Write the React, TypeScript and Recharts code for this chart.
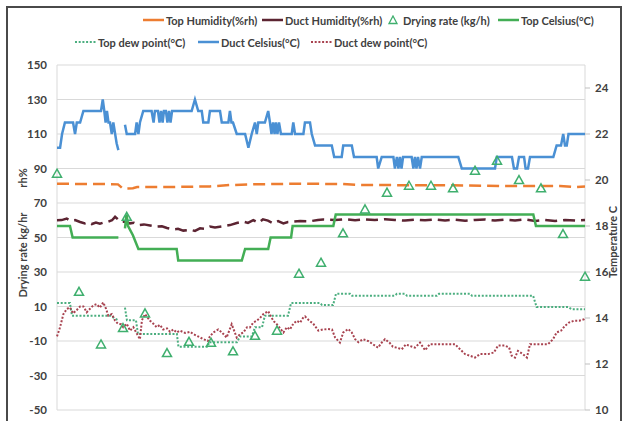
import React from 'react'
import { ComposedChart, Line, Scatter, XAxis, YAxis, CartesianGrid, Label } from 'recharts'

// x = sample index along the run (0..240), no labels shown on the x axis
const xTicks = [0, 20, 40, 60, 80, 100, 120, 140, 160, 180, 200, 220, 240]
const rhTicks = [-50, -30, -10, 10, 30, 50, 70, 90, 110, 130, 150]
const tempTicks = [10, 12, 14, 16, 18, 20, 22, 24]

type Pt = [number, number | null]

const topHumidity: Pt[] = [
  [0, 81.2], [10.5, 81], [19.5, 81], [27.7, 80.8], [30, 78.3], [34.5, 78.6], [36.4, 79.3], [53.6, 79.3],
  [69.5, 79.6], [78.6, 80.4], [87.7, 80.8], [110.5, 81.2], [130, 81], [137.7, 80.4], [178.6, 80.3],
  [201.4, 79.8], [228.6, 79.8], [235.5, 79.2], [240, 79.5],
]

const ductHumidity: Pt[] = [
  [0, 60], [2.1, 60.1], [4.4, 61], [5.9, 59.8], [8.2, 60.1], [10.5, 59], [12.7, 58.2], [14.1, 58.8],
  [15.8, 57.8], [17.7, 58.6], [19.5, 58], [21.4, 58.7], [23.3, 59.2], [25, 60], [26.4, 62], [27.7, 60.5],
  [29.1, 59], [30.9, 59.2], [33.2, 58.2], [35, 58.5], [37, 57.2], [39.5, 57.6], [42.3, 57], [45.3, 56.3],
  [47.7, 56.5], [50, 55.5], [52.9, 54.7], [55, 55], [57.4, 54], [60.5, 54.5], [62.7, 53.8], [65, 55.3],
  [67.3, 55], [69.5, 56.3], [71.8, 55.8], [75.6, 56.5], [78.6, 57.2], [81.7, 58.4], [84.7, 59.2],
  [86.8, 58.5], [89.2, 60.1], [91.5, 58.6], [93.6, 60.5], [95.9, 59.8], [98.3, 58.2], [100.5, 59.5],
  [102.9, 58.2], [105, 59], [107.4, 59.2], [110.5, 59.5], [115, 59.4], [118.6, 60.2], [121, 60.5],
  [126.4, 60.2], [130.9, 60.6], [135.5, 60], [140, 60.5], [144.5, 60.1], [149.1, 60.6], [153.6, 60.2],
  [158.2, 59.8], [162.7, 60.4], [167.3, 60], [171.8, 60.5], [176.4, 59.9], [180.9, 60.3], [185.5, 59.7],
  [190, 60.2], [194.5, 60.5], [199.1, 59.8], [203.6, 60.4], [208.2, 59.9], [212.7, 60.5], [217.3, 59.6],
  [221.8, 60.2], [226.4, 59.5], [230.9, 60.2], [235.5, 59.8], [240, 60.1],
]

const dryingRate: [number, number][] = [
  [0, 87], [10, 18.5], [20, -12], [30, -2.5], [31.7, 62], [40, 6], [50, -17], [60, -10.5], [70, -11],
  [80, -16], [90, -7], [100, -4], [110, 29], [120, 35.4], [130, 52.4], [140, 66.3], [150, 76], [160, 80],
  [170, 80], [180, 78.5], [190, 88.7], [200, 94.5], [210, 83.3], [220, 78.5], [230, 52], [240, 27.3],
]

const topCelsius: Pt[] = [
  [0, 18], [5.9, 18], [7.1, 17.5], [27.9, 17.5], [29, null], [30.9, 17.9], [31.6, 18.5], [32.3, 18],
  [34.5, 17.6], [37, 17], [54.4, 17], [55.1, 16.5], [84, 16.5], [85.5, 17], [96, 17], [97.1, 17.5],
  [106.4, 17.5], [107.1, 18], [125.6, 18], [126.7, 18.5], [216.5, 18.5], [217.7, 18], [240, 18],
]

const topDewPoint: Pt[] = [
  [0, 14.65], [5.9, 14.65], [6.8, 14.1], [24.1, 14.1], [27.9, 13.9], [29, null], [30.9, 14.45],
  [31.8, 13.9], [35.9, 13.9], [36.8, 13.3], [54.5, 13.3], [55.2, 12.75], [68.6, 12.75], [69.1, 12.95],
  [81.8, 12.95], [83.2, 13.2], [88.6, 13.2], [90, 13.6], [93.2, 13.6], [94.5, 14.1], [105, 14.1],
  [106.4, 14.65], [119.5, 14.65], [120.5, 14.56], [125.5, 14.56], [126.8, 15.05], [133.2, 15.05],
  [134.1, 14.97], [153.6, 14.97], [154.5, 15.05], [158.2, 15.05], [159.1, 14.97], [172.7, 14.97],
  [173.6, 15.05], [187.7, 15.05], [188.6, 14.97], [216.4, 14.97], [218, 14.48], [232.3, 14.48],
  [234.1, 14.38], [240, 14.38],
]

const ductCelsius: Pt[] = [
  [0, 21.4], [1.4, 21.4], [2.3, 22], [3.6, 22.5], [7.3, 22.5], [8.2, 22], [9, 22.5], [10.5, 22.5],
  [12, 23], [20, 23], [20.8, 23.5], [21.5, 23], [22.1, 22.5], [22.7, 23], [23.4, 22.5], [24.1, 22.5],
  [24.9, 22], [25.6, 22.5], [27.1, 21.6], [27.9, 21.3], [29, null],
  [30.9, 22.4], [31.7, 22], [35.5, 22], [36.2, 22.5], [37, 22], [37.7, 22.5], [39.2, 23], [43, 23],
  [43.9, 22.5], [44.5, 23], [45.9, 23], [46.6, 22.5], [47.3, 23], [48, 22.5], [48.6, 23], [49.5, 23],
  [50.2, 22.5], [50.9, 23], [51.6, 22.5], [52.3, 23], [61.2, 23], [62.7, 23.5], [64.2, 23], [65.8, 23],
  [66.5, 22.5], [68.8, 22.5], [69.5, 23], [74.1, 23], [74.9, 22.5], [77.9, 22.5], [78.6, 23],
  [79.3, 22.5], [80, 22.5], [81.7, 22], [85.5, 22], [87, 21.4], [88.5, 22], [90, 22.5], [90.8, 22],
  [91.5, 22.5], [94.5, 22.5], [96, 23], [96.8, 22.5], [97.5, 22], [98.2, 22.5], [98.9, 22], [99.5, 22.5],
  [100.2, 22], [100.9, 22.5], [101.8, 22], [106.7, 22], [107.4, 22.5], [108.2, 22], [112, 22],
  [112.7, 22.5], [115, 22.5], [115.8, 22], [117.3, 21.5], [124.9, 21.5], [126, 21], [129.4, 21],
  [130.1, 21.5], [134, 21.5], [135, 21], [145.3, 21], [146, 20.5], [147.6, 21], [152.9, 21],
  [153.6, 20.5], [154.5, 21], [155.2, 20.5], [155.9, 21], [156.6, 20.5], [157.3, 21], [161.2, 21],
  [162, 20.5], [162.7, 21], [163.4, 20.5], [164.1, 21], [165, 20.5], [165.8, 21], [182.4, 21],
  [184, 20.5], [199.1, 20.5], [199.9, 21], [206.8, 21], [207.7, 20.5], [209.1, 20.5], [210, 21],
  [212.3, 21], [213, 20.5], [214.1, 20.5], [215, 21], [225.6, 21], [227.1, 21.5], [229.1, 21.5],
  [230.1, 22], [230.9, 21.5], [231.7, 21.5], [232.5, 22], [240, 22],
]

const ductDewPoint: Pt[] = [
  [0, 13.2], [1.4, 13.6], [2.9, 14.17], [4.5, 14.4], [5.9, 14.46], [7.3, 14.2], [9, 14.35], [10.5, 14.5],
  [12, 14.5], [13.5, 14.25], [15, 14.4], [16.5, 14.55], [18, 14.6], [19.5, 14.45], [21, 14.68],
  [22.3, 14.4], [23.3, 14.1], [24.9, 14.17], [26.4, 13.88], [27.7, 13.75], [29.1, 13.73], [30.1, 13.6],
  [31.7, 13.75], [33.2, 13.45], [34.7, 13.6], [36.4, 13.3], [37.7, 13.08], [38.6, 13.9], [40, 14.17],
  [42.3, 13.88], [43.8, 13.75], [45.3, 13.6], [46.8, 13.7], [48.3, 13.5], [50, 13.55], [51.4, 13.4],
  [52.9, 13.5], [54.4, 13.37], [55.9, 13.45], [58.2, 13.35], [60.5, 13.4], [62, 13.3], [64.1, 13.2],
  [66.5, 13.08], [68.6, 13.0], [69.5, 13.2], [71, 13.37], [73.3, 13.5], [75, 13.37], [77.1, 13.15],
  [79.4, 13.73], [81.7, 13.15], [83.2, 13.3], [84.7, 13.37], [86.4, 13.6], [87.7, 13.59], [89.2, 13.8],
  [90.8, 13.88], [92.3, 14.0], [93.8, 14.17], [96, 14.3], [97.6, 14.0], [98.6, 13.85], [99.9, 13.73],
  [101.4, 13.55], [102.9, 13.37], [104.5, 13.6], [105.9, 13.5], [107.4, 13.75], [109, 13.88],
  [110.5, 13.8], [111.8, 14.0], [112.7, 14.07], [114.5, 13.9], [116.5, 13.75], [118.8, 13.45],
  [120.9, 13.5], [123.2, 13.52], [125, 13.5], [126.4, 13.15], [128.6, 12.93], [130.1, 13.37],
  [132.4, 13.52], [134, 13.37], [135.5, 13.08], [137, 12.95], [139.1, 13.08], [141.4, 13.0],
  [143.6, 12.86], [145.9, 12.71], [147.6, 12.93], [149.1, 13.08], [151.4, 12.9], [152.7, 12.75],
  [154.5, 12.71], [156.7, 12.64], [158.6, 12.85], [160.5, 12.78], [162.7, 12.71], [165, 12.93],
  [167.3, 12.6], [169.5, 12.86], [173.2, 12.86], [177.7, 12.86], [180.9, 12.86], [183.2, 12.64],
  [185.5, 12.43], [187.7, 12.36], [190, 12.28], [192.3, 12.43], [195.9, 12.43], [198.6, 12.5],
  [200.5, 12.8], [203.6, 12.8], [205.5, 12.72], [206.7, 12.36], [208.2, 12.28], [209.5, 12.57],
  [211.8, 12.43], [213.6, 12.28], [215, 12.86], [217.3, 12.86], [220.3, 12.86], [223.2, 12.86],
  [225.5, 13.08], [227.1, 13.37], [229.1, 13.45], [230.9, 13.66], [232.7, 13.8], [234.9, 13.88],
  [237.3, 13.88], [239.7, 13.95], [240, 13.98],
]

const COLORS = {
  topHum: '#ED7D31',
  ductHum: '#5C2432',
  drying: '#3FAF6E',
  topC: '#43AE55',
  topDew: '#4BAE7F',
  ductC: '#4A90D4',
  ductDew: '#A8424F',
}

const FONT = "Lato, 'Liberation Sans', sans-serif"
const rows = (pts: Pt[]) => pts.map(([x, y]) => ({ x, y }))

// eslint-disable-next-line @typescript-eslint/no-explicit-any
function Triangle(props: any) {
  const { cx, cy } = props
  if (cx == null || cy == null) return null
  return (
    <path
      d={`M${cx},${cy - 4.5}L${cx + 4.5},${cy + 3.5}L${cx - 4.5},${cy + 3.5}Z`}
      fill="none"
      stroke={COLORS.drying}
      strokeWidth={1.5}
    />
  )
}

// eslint-disable-next-line @typescript-eslint/no-explicit-any
function LeftTitles(props: any) {
  const { x, y } = props.viewBox
  const tx = x + 12
  return (
    <g fontFamily={FONT} fontSize={11} fontWeight={700} fill="#404040">
      <text x={tx} y={y + 113} transform={`rotate(-90 ${tx} ${y + 113})`} textAnchor="middle" dominantBaseline="central">rh%</text>
      <text x={tx} y={y + 190} transform={`rotate(-90 ${tx} ${y + 190})`} textAnchor="middle" dominantBaseline="central">Drying rate kg/hr</text>
    </g>
  )
}

// eslint-disable-next-line @typescript-eslint/no-explicit-any
function RightTitle(props: any) {
  const { x, y } = props.viewBox
  const tx = x + 27
  const ty = y + 177
  return (
    <text x={tx} y={ty} transform={`rotate(-90 ${tx} ${ty})`} textAnchor="middle" dominantBaseline="central"
      fontFamily={FONT} fontSize={11} fontWeight={700} fill="#404040">Temperature C</text>
  )
}

type Item = { label: string; left: number; top: number; kind: 'line' | 'dot' | 'tri'; color: string }
const legendItems: Item[] = [
  { label: 'Top Humidity(%rh)', left: 143, top: 20, kind: 'line', color: COLORS.topHum },
  { label: 'Duct Humidity(%rh)', left: 262, top: 20, kind: 'line', color: COLORS.ductHum },
  { label: 'Drying rate (kg/h)', left: 385, top: 20, kind: 'tri', color: COLORS.drying },
  { label: 'Top Celsius(°C)', left: 498, top: 20, kind: 'line', color: COLORS.topC },
  { label: 'Top dew point(°C)', left: 75, top: 42, kind: 'dot', color: COLORS.topDew },
  { label: 'Duct Celsius(°C)', left: 198, top: 42, kind: 'line', color: COLORS.ductC },
  { label: 'Duct dew point(°C)', left: 311, top: 42, kind: 'dot', color: COLORS.ductDew },
]

function Legend() {
  return (
    <>
      {legendItems.map(it => (
        <div key={it.label} style={{ position: 'absolute', left: it.left, top: it.top - 8, height: 16, display: 'flex', alignItems: 'center', fontFamily: FONT, fontSize: 11, fontWeight: 700, color: '#404040', whiteSpace: 'nowrap' }}>
          <svg width={it.kind === 'tri' ? 16 : 21} height={10} style={{ marginRight: it.kind === 'tri' ? 2 : 2 }}>
            {it.kind === 'line' && <line x1={0} y1={5} x2={21} y2={5} stroke={it.color} strokeWidth={2.5} />}
            {it.kind === 'dot' && <line x1={0} y1={5} x2={21} y2={5} stroke={it.color} strokeWidth={2} strokeDasharray="2 1.7" />}
            {it.kind === 'tri' && <path d="M8,1L12,8.5L4,8.5Z" fill="none" stroke={it.color} strokeWidth={1.3} />}
          </svg>
          <span>{it.label}</span>
        </div>
      ))}
    </>
  )
}

export default function App() {
  return (
    <div style={{ position: 'absolute', left: 0, top: 0, width: 629, height: 421, overflow: 'hidden', background: '#fff' }}>
      <div style={{ position: 'absolute', left: 6, top: 6, width: 616, height: 440, border: '2px solid #4a4a4a', boxSizing: 'border-box' }} />
      <div style={{ position: 'absolute', left: 0, top: 0 }}>
        <ComposedChart width={629} height={421} margin={{ top: 65, right: 4, bottom: 11, left: 10 }}>
          <CartesianGrid stroke="#d9d9d9" yAxisId="L" />
          <XAxis dataKey="x" type="number" domain={[0, 240]} ticks={xTicks} height={0} tick={false} tickLine={false} axisLine={{ stroke: '#d9d9d9' }} allowDuplicatedCategory={false} />
          <YAxis yAxisId="L" domain={[-50, 150]} ticks={rhTicks} width={47} axisLine={false} tickLine={false} tickMargin={4}
            tick={{ fill: '#404040', fontSize: 11.5, fontWeight: 700, fontFamily: FONT }}>
            <Label content={<LeftTitles />} />
          </YAxis>
          <YAxis yAxisId="R" orientation="right" domain={[10, 25]} ticks={tempTicks} width={40} axisLine={false}
            tickLine={{ stroke: '#bfbfbf' }} tickSize={5} tickMargin={5}
            tick={{ fill: '#404040', fontSize: 11.5, fontWeight: 700, fontFamily: FONT }}>
            <Label content={<RightTitle />} />
          </YAxis>

          <Line yAxisId="L" data={rows(topHumidity)} dataKey="y" stroke={COLORS.topHum} strokeWidth={2.5} strokeDasharray="12 6" dot={false} isAnimationActive={false} />
          <Line yAxisId="L" data={rows(ductHumidity)} dataKey="y" stroke={COLORS.ductHum} strokeWidth={2.5} strokeDasharray="12 6" dot={false} isAnimationActive={false} />
          <Line yAxisId="R" data={rows(topCelsius)} dataKey="y" stroke={COLORS.topC} strokeWidth={2.5} dot={false} isAnimationActive={false} />
          <Line yAxisId="R" data={rows(topDewPoint)} dataKey="y" stroke={COLORS.topDew} strokeWidth={2} strokeDasharray="2 1.7" dot={false} isAnimationActive={false} />
          <Line yAxisId="R" data={rows(ductCelsius)} dataKey="y" stroke={COLORS.ductC} strokeWidth={2.5} dot={false} isAnimationActive={false} />
          <Line yAxisId="R" data={rows(ductDewPoint)} dataKey="y" stroke={COLORS.ductDew} strokeWidth={2} strokeDasharray="2 1.7" dot={false} isAnimationActive={false} />
          <Scatter yAxisId="L" data={dryingRate.map(([x, y]) => ({ x, y }))} dataKey="y" shape={<Triangle />} isAnimationActive={false} />
        </ComposedChart>
      </div>
      <Legend />
    </div>
  )
}
